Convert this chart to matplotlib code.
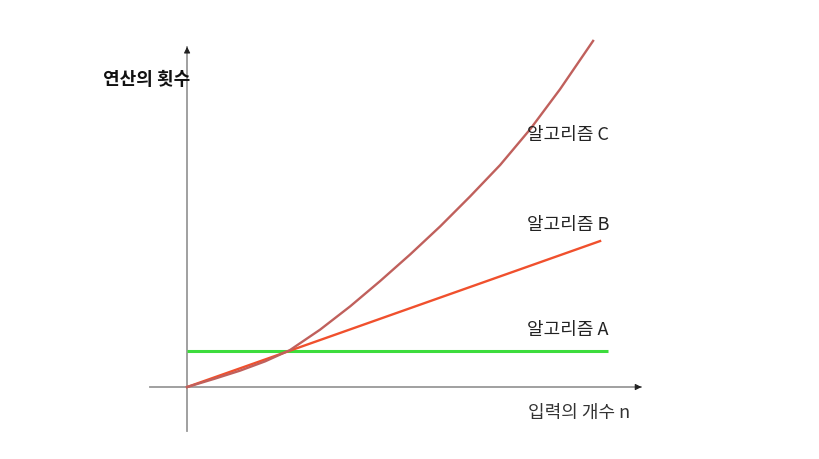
import numpy as np
import matplotlib.pyplot as plt

plt.rcParams['font.family'] = ['Noto Sans CJK KR', 'DejaVu Sans']

# 데이터 (임의 단위)
x_a = [0.0, 10.2]
y_a = [2.5, 2.5]

x_b = [0.0, 10.0]
y_b = [0.0, 10.0]

x_c = [0, 0.68, 1.28, 1.89, 2.49, 3.22, 3.95, 4.67, 5.40, 6.13, 6.85, 7.58, 8.31, 9.03, 9.83]
y_c = [0, 0.58, 1.12, 1.76, 2.53, 3.93, 5.53, 7.25, 9.08, 11.01, 13.05, 15.21, 17.67, 20.40, 23.71]

labels = ["알고리즘 A", "알고리즘 B", "알고리즘 C"]

fig = plt.figure(figsize=(8.19, 4.6), dpi=100)
ax = fig.add_axes([0, 0, 1, 1])
ax.set_xlim(-4.53, 15.30)
ax.set_ylim(-4.93, 26.58)
ax.axis('off')

# 축
ax.plot([-0.9, 11.0], [0, 0], color='#999999', lw=1.3, zorder=1)
ax.plot([0, 0], [-3.0, 23.3], color='#999999', lw=1.3, zorder=1)
ax.annotate('', xy=(11.07, 0), xytext=(10.8, 0),
            arrowprops=dict(arrowstyle='-|>', color='#222222', lw=0.8, mutation_scale=9))
ax.annotate('', xy=(0, 23.5), xytext=(0, 22.8),
            arrowprops=dict(arrowstyle='-|>', color='#222222', lw=0.8, mutation_scale=9))

# 선
ax.plot(x_a, y_a, color='#3ddc3d', lw=2.2, solid_capstyle='butt', zorder=2)
ax.plot(x_b, y_b, color='#f0502d', lw=1.7, zorder=3)
ax.plot(x_c, y_c, color='#c0605c', lw=1.7, zorder=3, solid_joinstyle='round')

# 텍스트
ax.text(8.23, 3.97, labels[0], fontsize=13, color='#222222', va='center', ha='left')
ax.text(8.23, 11.2, labels[1], fontsize=13, color='#222222', va='center', ha='left')
ax.text(8.23, 17.3, labels[2], fontsize=13, color='#222222', va='center', ha='left')

ax.text(-2.03, 21.1, "연산의 횟수", fontsize=13, fontweight='bold', color='#111111',
        va='center', ha='left')
ax.text(8.25, -1.71, "입력의 개수 n", fontsize=13, style='italic', color='#333333',
        va='center', ha='left')

fig.savefig("out.png", dpi=100)
